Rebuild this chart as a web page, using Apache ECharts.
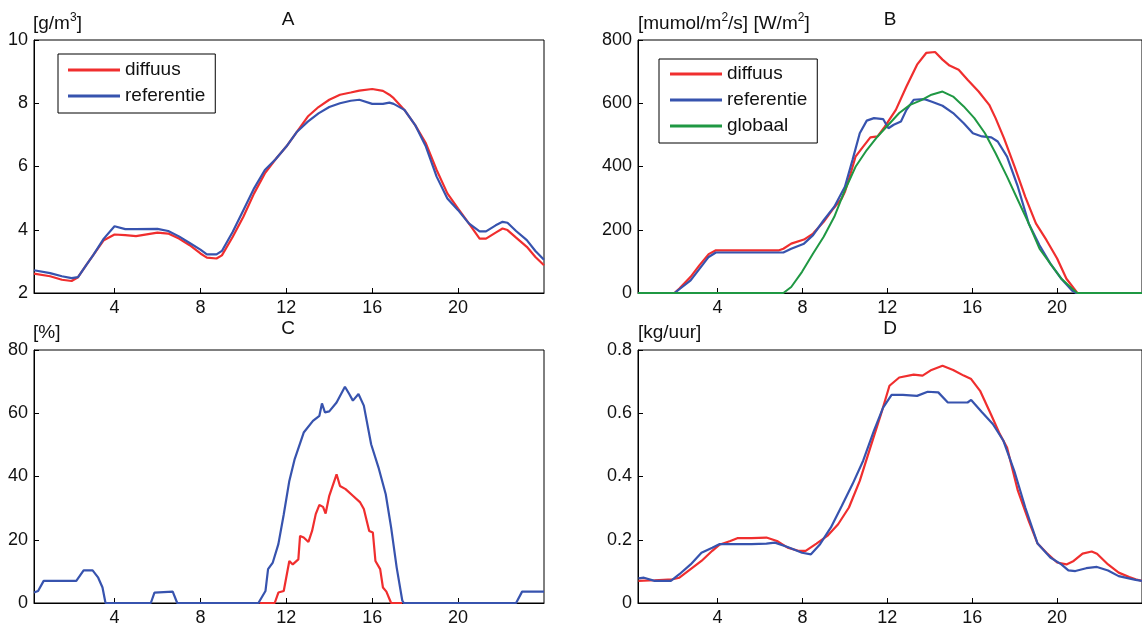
<!DOCTYPE html>
<html>
<head>
<meta charset="utf-8">
<script src="https://cdn.jsdelivr.net/npm/echarts@6/dist/echarts.min.js"></script>
<style>
html,body{margin:0;padding:0;background:#fff;}
#chart{width:1142px;height:628px;}
</style>
</head>
<body>
<div id="chart"></div>
<script>
// ---------- Data (hours of the day) ----------
var xTicks = [4, 8, 12, 16, 20];

// Panel A [g/m3]
var aHours = [0.25,1,1.55,2,2.3,2.73,3,3.5,4,4.5,5,6,6.5,7,7.5,8,8.3,8.75,9,9.5,10,10.5,11,11.5,12,12.5,13,13.5,14,14.5,15,15.4,16,16.5,16.8,17,17.5,18,18.5,19,19.5,20,20.5,21,21.3,21.75,22.07,22.3,22.7,23.2,23.6,24];
var aDiffuus = [2.61,2.53,2.42,2.38,2.5,2.93,3.19,3.67,3.85,3.83,3.80,3.91,3.88,3.72,3.51,3.25,3.12,3.09,3.19,3.77,4.41,5.15,5.78,6.23,6.63,7.10,7.58,7.88,8.11,8.27,8.34,8.40,8.45,8.39,8.27,8.16,7.79,7.31,6.73,5.89,5.15,4.67,4.20,3.72,3.72,3.91,4.04,3.99,3.75,3.46,3.14,2.88];
var aReferentie = [2.72,2.63,2.53,2.47,2.5,2.93,3.19,3.72,4.11,4.02,4.02,4.03,3.96,3.79,3.58,3.37,3.22,3.22,3.33,3.93,4.62,5.31,5.89,6.23,6.63,7.10,7.42,7.68,7.88,8.0,8.08,8.11,7.98,7.98,8.02,7.98,7.79,7.31,6.63,5.68,4.99,4.62,4.20,3.95,3.95,4.14,4.25,4.22,3.96,3.67,3.33,3.05];

// Panel B [mumol/m2/s] [W/m2]
var bDiffuusHours = [0.25,1.97,2.2,2.73,3.15,3.58,3.92,6.9,7.1,7.47,8.07,8.5,9,9.4,9.85,10,10.27,10.5,10.86,11.2,11.54,11.88,12.4,12.9,13.4,13.83,14.25,14.6,14.93,15.36,15.78,16.3,16.8,17.1,17.5,18,18.5,19,19.5,20,20.44,20.8,20.95,24];
var bDiffuus = [0,0,14,51,88,123,135,135,140,156,169,188,225,262,299,320,378,431,463,492,495,526,579,653,722,759,762,738,719,706,674,637,595,553,489,399,304,220,167,109,45,14,0,0];
var bReferentieHours = [0.25,1.97,2.73,3.58,3.92,7.1,7.47,8.07,8.5,9,9.5,10,10.36,10.7,11.03,11.37,11.8,12.05,12.3,12.64,12.9,13.24,13.75,14.1,14.6,15.1,15.6,16.03,16.46,16.9,17.2,17.64,18.15,18.66,19.17,19.68,20.2,20.7,20.9,24];
var bReferentie = [0,0,40,114,128,128,140,156,183,230,273,336,421,505,545,553,550,521,532,542,579,611,613,605,592,569,537,505,495,492,479,431,336,220,151,93,45,8,0,0];
var bGlobaalHours = [0.25,7.1,7.47,7.98,8.5,9,9.5,10,10.5,11.03,11.54,12.05,12.56,13.07,13.58,14.08,14.6,15.1,15.6,16.1,16.6,17.1,17.64,18.15,18.66,19.17,19.68,20.2,20.7,20.95,24];
var bGlobaal = [0,0,19,67,125,178,241,325,399,452,495,532,569,595,609,627,637,621,590,553,505,442,368,294,220,140,93,45,14,0,0];

// Panel C [%]
var cDiffuusHours = [10.75,11.46,11.63,11.88,12.14,12.3,12.56,12.64,12.81,13.03,13.2,13.37,13.54,13.71,13.83,14,14.34,14.5,14.76,15.1,15.44,15.61,15.86,16.03,16.15,16.37,16.5,16.66,16.88,17.4];
var cDiffuus = [0,0,3.3,3.8,13.3,12.2,13.8,21.2,20.7,19.3,22.8,28.1,31,30.4,28.3,33.9,40.7,37,36,33.9,31.8,29.7,22.8,22.3,13.3,10.7,4.9,3.6,0,0];
var cReferentieHours = [0.25,0.44,0.7,2.22,2.56,2.98,3.24,3.44,3.58,5.69,5.86,6.71,6.92,10.7,11.03,11.15,11.37,11.63,11.88,12.14,12.39,12.81,13.24,13.54,13.66,13.8,14,14.34,14.73,14.93,15.1,15.36,15.61,15.95,16.29,16.63,16.88,17.14,17.4,17.47,22.7,22.98,24];
var cReferentie = [3.3,3.8,7.0,7.0,10.3,10.3,8.0,4.9,0,0,3.3,3.6,0,0,3.8,10.7,12.8,18.6,28,38.6,45.5,53.9,57.6,59.2,63.1,60.3,60.6,63.4,68.4,66.1,64.0,66.1,62.4,50.2,42.9,34.4,23.9,11.2,0.8,0,0,3.6,3.6];

// Panel D [kg/uur]
var dDiffuusHours = [0.27,1.03,1.88,2.2,2.73,3.24,3.75,4.08,4.6,4.93,5.6,6.3,6.8,7.3,7.8,8.15,8.66,9.17,9.68,10.19,10.7,11.2,11.7,12.1,12.56,13.24,13.66,14.08,14.6,15.1,15.6,15.95,16.37,16.88,17.3,17.64,18.15,18.66,19.08,19.5,20,20.44,20.78,21.2,21.63,21.88,22.4,22.9,23.4,23.7,24];
var dDiffuus = [0.070,0.072,0.075,0.080,0.107,0.133,0.165,0.184,0.196,0.205,0.205,0.207,0.196,0.175,0.165,0.165,0.188,0.212,0.249,0.302,0.386,0.492,0.597,0.687,0.713,0.722,0.719,0.737,0.750,0.737,0.719,0.708,0.671,0.597,0.534,0.492,0.355,0.260,0.188,0.159,0.128,0.122,0.133,0.156,0.163,0.156,0.122,0.096,0.082,0.075,0.07];
var dReferentieHours = [0.27,0.53,1.03,1.8,2.2,2.73,3.24,3.75,4.08,4.76,5.6,6.3,6.7,7.3,7.98,8.4,8.83,9.34,9.85,10.36,10.86,11.37,11.8,12.2,12.73,13.4,13.9,14.4,14.85,15.78,15.95,16.46,16.97,17.47,17.98,18.5,19.08,19.68,20.2,20.53,20.86,21.37,21.88,22.4,22.9,23.7,24];
var dReferentie = [0.078,0.080,0.070,0.070,0.091,0.122,0.159,0.175,0.186,0.186,0.186,0.188,0.191,0.177,0.159,0.154,0.186,0.239,0.307,0.376,0.450,0.545,0.618,0.658,0.658,0.655,0.668,0.666,0.634,0.634,0.642,0.603,0.566,0.513,0.418,0.302,0.188,0.144,0.122,0.103,0.101,0.110,0.114,0.103,0.085,0.073,0.07];

// ---------- Styling ----------
var FONT = '"Liberation Sans", Arial, Helvetica, sans-serif';
var RED = '#f02e2e', BLUE = '#3753ae', GREEN = '#1f9843';
var TXT = '#111';

function pairs(h, v) { return h.map(function (x, i) { return [x, v[i]]; }); }

var grids = [
  {left: 34, top: 40, width: 510, height: 253},
  {left: 638, top: 40, width: 510, height: 253},
  {left: 34, top: 350, width: 510, height: 253},
  {left: 638, top: 350, width: 510, height: 253}
];
grids.forEach(function (g) { g.show = true; g.borderColor = '#000'; g.borderWidth = 1; g.backgroundColor = 'transparent'; });

function xAx(i) {
  return {
    type: 'value', gridIndex: i, min: 0.25, max: 24,
    axisLine: {onZero: false, lineStyle: {color: '#000', width: 1}},
    axisTick: {inside: true, length: 5, customValues: xTicks, lineStyle: {color: '#000'}},
    axisLabel: {customValues: xTicks, fontSize: 18, fontFamily: FONT, color: TXT, margin: 6},
    splitLine: {show: false}
  };
}
function yAx(i, min, max, interval) {
  return {
    type: 'value', gridIndex: i, min: min, max: max, interval: interval,
    axisLine: {show: true, onZero: false, lineStyle: {color: '#000', width: 1}},
    axisTick: {show: true, inside: true, length: 5, lineStyle: {color: '#000'}},
    axisLabel: {fontSize: 18, fontFamily: FONT, color: TXT, margin: 6},
    splitLine: {show: false}
  };
}
function line(name, color, xi, h, v, w) {
  return {
    name: name, type: 'line', xAxisIndex: xi, yAxisIndex: xi,
    data: pairs(h, v), showSymbol: false, symbol: 'none',
    lineStyle: {color: color, width: w || 2.2}, itemStyle: {color: color},
    emphasis: {disabled: true}, animation: false
  };
}

var rich = {
  n: {fontSize: 19, fontFamily: FONT, fill: TXT, color: TXT, lineHeight: 24},
  s: {fontSize: 12, fontFamily: FONT, fill: TXT, color: TXT, lineHeight: 12, verticalAlign: 'top'}
};
function label(x, y, text, align) {
  return {
    type: 'text', x: x, y: y, silent: true,
    style: {text: text, rich: rich, fill: TXT, font: '19px ' + FONT, align: align || 'left', verticalAlign: 'middle'}
  };
}

var legendBase = {
  orient: 'vertical', icon: 'rect', itemWidth: 52, itemHeight: 3, itemGap: 6,
  backgroundColor: '#fff', borderColor: '#000', borderWidth: 1, borderRadius: 0,
  textStyle: {fontSize: 19, fontFamily: FONT, color: TXT, lineHeight: 20},
  selectedMode: false
};

var option = {
  animation: false,
  backgroundColor: '#fff',
  grid: grids,
  xAxis: [xAx(0), xAx(1), xAx(2), xAx(3)],
  yAxis: [yAx(0, 2, 10, 2), yAx(1, 0, 800, 200), yAx(2, 0, 80, 20), yAx(3, 0, 0.8, 0.2)],
  legend: [
    Object.assign({}, legendBase, {left: 58, top: 54, padding: [6, 10, 7, 10], data: ['diffuus', 'referentie']}),
    Object.assign({}, legendBase, {left: 659, top: 59, padding: [5, 10, 7, 11], data: ['diffuus', 'referentie', 'globaal']})
  ],
  series: [
    line('diffuus', RED, 0, aHours, aDiffuus),
    line('referentie', BLUE, 0, aHours, aReferentie),
    line('diffuus', RED, 1, bDiffuusHours, bDiffuus),
    line('referentie', BLUE, 1, bReferentieHours, bReferentie),
    line('globaal', GREEN, 1, bGlobaalHours, bGlobaal, 2),
    line('diffuus', RED, 2, cDiffuusHours, cDiffuus),
    line('referentie', BLUE, 2, cReferentieHours, cReferentie),
    line('diffuus', RED, 3, dDiffuusHours, dDiffuus),
    line('referentie', BLUE, 3, dReferentieHours, dReferentie)
  ],
  graphic: [
    label(33, 24, '{n|[g/m}{s|3}{n|]}'),
    label(288, 20, '{n|A}', 'center'),
    label(638, 24, '{n|[mumol/m}{s|2}{n|/s] [W/m}{s|2}{n|]}'),
    label(890, 20, '{n|B}', 'center'),
    label(33, 333, '{n|[%]}'),
    label(288, 329, '{n|C}', 'center'),
    label(638, 333, '{n|[kg/uur]}'),
    label(890, 329, '{n|D}', 'center')
  ]
};

var chart = echarts.init(document.getElementById('chart'), null, {renderer: 'canvas'});
chart.setOption(option);
</script>
</body>
</html>
